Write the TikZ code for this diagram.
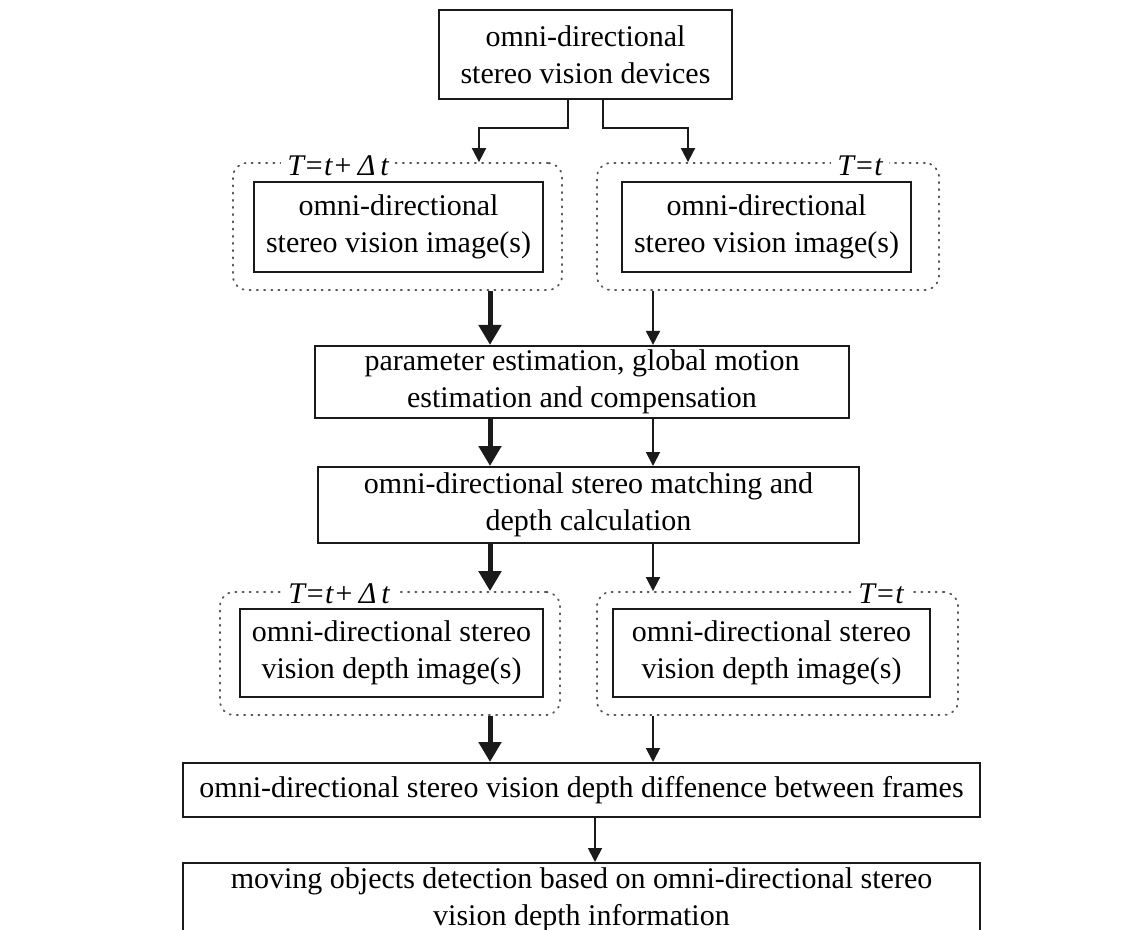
\documentclass[tikz,border=0pt]{standalone}
\usepackage{fontspec}
\setmainfont{Liberation Serif}
\usepackage{xcolor}
\usepackage{tikz}
\usetikzlibrary{arrows.meta,positioning,calc}
\definecolor{inkblack}{HTML}{1A1A1A}
\definecolor{dotgray}{HTML}{555555}
\tikzset{
  procbox/.style={draw=inkblack,line width=1pt,fill=white,align=center,
    font=\fontsize{15}{18.5}\selectfont,inner sep=2pt},
  dotframe/.style={draw=dotgray,line width=0.9pt,rounded corners=7pt,
    dash pattern=on 0.6pt off 3pt,line cap=round},
  timelabel/.style={fill=white,inner sep=3pt,font=\fontsize{15}{18}\selectfont\itshape},
  mainarrow/.style={-{Triangle[length=10pt,width=11pt]},draw=inkblack,line width=2.5pt},
  sidearrow/.style={-{Triangle[length=7pt,width=7pt]},draw=inkblack,line width=0.9pt}
}
\begin{document}
\begin{tikzpicture}[x=0.5pt,y=-0.5pt]
  \useasboundingbox (0,0) rectangle (1145,930);
  \clip (0,0) rectangle (1145,930);
  % lanes of the two streams
  \coordinate (laneL) at (490,0);
  \coordinate (laneR) at (653,0);
  \coordinate (tapL) at (568,0);
  \coordinate (tapR) at (603,0);
  \coordinate (dropL) at (479,0);
  \coordinate (dropR) at (688,0);
  \coordinate (laneM) at (595,0);
  \node[procbox,minimum width=146.5pt,minimum height=44.5pt] (devices) at (585.5,54.5)
    {omni-directional\\stereo vision devices};
  \node[dotframe,minimum width=164.5pt,minimum height=63.5pt] (grpL) at (397.5,226.5) {};
  \node[dotframe,minimum width=171pt,minimum height=63.5pt] (grpR) at (768,226.5) {};
  \node[timelabel] (labL) at (338,166) {T=t+\,Δ\,t};
  \node[timelabel] (labR) at (860,166) {T=t};
  \node[procbox,minimum width=144.5pt,minimum height=45pt] (imgL) at (398.5,227)
    {omni-directional\\stereo vision image(s)};
  \node[procbox,minimum width=144.5pt,minimum height=45pt] (imgR) at (766.5,227)
    {omni-directional\\stereo vision image(s)};
  \node[procbox,minimum width=267pt,minimum height=35pt] (param) at (582,382)
    {parameter estimation, global motion\\estimation and compensation};
  \node[procbox,minimum width=270.5pt,minimum height=38pt] (match) at (588.5,505)
    {omni-directional stereo matching and\\depth calculation};
  \node[dotframe,minimum width=170pt,minimum height=61.5pt] (grpL2) at (390,653.5) {};
  \node[dotframe,minimum width=180.5pt,minimum height=61.5pt] (grpR2) at (777.5,653.5) {};
  \node[timelabel] (labL2) at (339,594) {T=t+\,Δ\,t};
  \node[timelabel] (labR2) at (881,594) {T=t};
  \node[procbox,minimum width=151.5pt,minimum height=44pt] (depL) at (391.5,653)
    {omni-directional stereo\\vision depth image(s)};
  \node[procbox,minimum width=158.5pt,minimum height=44pt] (depR) at (771.5,653)
    {omni-directional stereo\\vision depth image(s)};
  \node[procbox,minimum width=398.5pt,minimum height=27pt] (diff) at (581.5,790)
    {omni-directional stereo vision depth diffenence between frames};
  \node[procbox,minimum width=398.5pt,minimum height=37pt,anchor=north] (moving) at (581.5,862)
    {moving objects detection based on omni-directional stereo\\vision depth information};
  % connectors
  \draw[sidearrow] (devices.south -| tapL) -- ++(0,28) -| (grpL.north -| dropL);
  \draw[sidearrow] (devices.south -| tapR) -- ++(0,28) -| (grpR.north -| dropR);
  \draw[mainarrow] (grpL.south -| laneL) -- (param.north -| laneL);
  \draw[sidearrow] (grpR.south -| laneR) -- (param.north -| laneR);
  \draw[mainarrow] (param.south -| laneL) -- (match.north -| laneL);
  \draw[sidearrow] (param.south -| laneR) -- (match.north -| laneR);
  \draw[mainarrow] (match.south -| laneL) -- (grpL2.north -| laneL);
  \draw[sidearrow] (match.south -| laneR) -- (grpR2.north -| laneR);
  \draw[mainarrow] (grpL2.south -| laneL) -- (diff.north -| laneL);
  \draw[sidearrow] (grpR2.south -| laneR) -- (diff.north -| laneR);
  \draw[sidearrow] (diff.south -| laneM) -- (moving.north -| laneM);
\end{tikzpicture}
\end{document}
